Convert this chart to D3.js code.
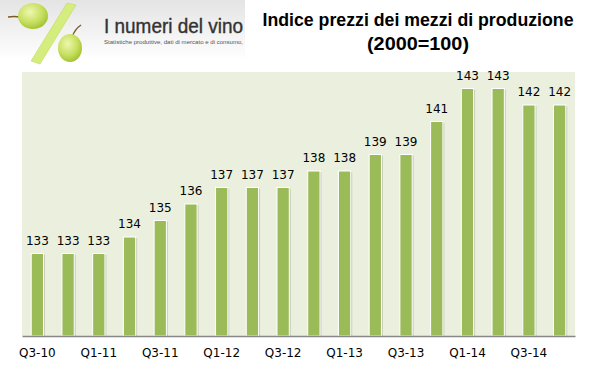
<!DOCTYPE html>
<html>
<head>
<meta charset="utf-8">
<script src="https://cdn.jsdelivr.net/npm/d3@7"></script>
<style>
  body { margin: 0; background: #fff; }
  svg { display: block; }
</style>
</head>
<body>
<svg id="chart" width="597" height="385"></svg>
<script>
// quarterly index, 2000 = 100
var quarters = ['Q3-10','Q4-10','Q1-11','Q2-11','Q3-11','Q4-11','Q1-12','Q2-12','Q3-12',
                'Q4-12','Q1-13','Q2-13','Q3-13','Q4-13','Q1-14','Q2-14','Q3-14','Q4-14'];
var values = [133,133,133,134,135,136,137,137,137,138,138,139,139,141,143,143,142,142];
var tickLabels = ['Q3-10','Q1-11','Q3-11','Q1-12','Q3-12','Q1-13','Q3-13','Q1-14','Q3-14'];
var titleLines = ['Indice prezzi dei mezzi di produzione', '(2000=100)'];

var svg = d3.select('#chart');
var margin = {left: 22, right: 22, top: 72, bottom: 49};
var W = 597, H = 385;

var defs = svg.append('defs');
var bg = defs.append('linearGradient').attr('id', 'banner').attr('x1', 0).attr('y1', 0).attr('x2', 0).attr('y2', 1);
bg.append('stop').attr('offset', 0).attr('stop-color', '#e4e4e4');
bg.append('stop').attr('offset', 1).attr('stop-color', '#fff');
var gr = defs.append('radialGradient').attr('id', 'grape').attr('cx', 0.4).attr('cy', 0.35).attr('r', 0.7);
gr.append('stop').attr('offset', 0).attr('stop-color', '#eef7b0');
gr.append('stop').attr('offset', 0.6).attr('stop-color', '#c6df5e');
gr.append('stop').attr('offset', 1).attr('stop-color', '#9fbf2e');

// logo banner
var logo = svg.append('g');
logo.append('rect').attr('x', 0).attr('y', 0).attr('width', 245).attr('height', 60).attr('fill', 'url(#banner)');
logo.append('path').attr('d', 'M67,3 L76,5 L40,64 L31,61 Z').attr('fill', '#d5ec7e').attr('stroke', '#c0dc5a').attr('stroke-width', 0.6);
logo.append('path').attr('d', 'M20,17 Q14,16 8,17').attr('stroke', '#7a5a2a').attr('stroke-width', 1.4).attr('fill', 'none');
logo.append('ellipse').attr('cx', 33).attr('cy', 16).attr('rx', 15).attr('ry', 13).attr('fill', 'url(#grape)');
logo.append('path').attr('d', 'M72,37 Q75,29 81,25').attr('stroke', '#7a5a2a').attr('stroke-width', 1.4).attr('fill', 'none');
logo.append('ellipse').attr('cx', 70).attr('cy', 48).attr('rx', 12).attr('ry', 14).attr('fill', 'url(#grape)');
logo.append('text').attr('x', 104).attr('y', 33).attr('font-family', 'Liberation Sans, Arial, sans-serif')
  .attr('font-size', 21).attr('fill', '#333').attr('stroke', '#333').attr('stroke-width', 0.4)
  .attr('textLength', 139).attr('lengthAdjust', 'spacingAndGlyphs').text('I numeri del vino');
logo.append('text').attr('x', 104).attr('y', 44).attr('font-family', 'Liberation Sans, Arial, sans-serif')
  .attr('font-size', 6).attr('fill', '#555')
  .attr('textLength', 139).attr('lengthAdjust', 'spacingAndGlyphs')
  .text('Statistiche produttive, dati di mercato e di consumo,');

// title
svg.selectAll('text.title').data(titleLines).enter().append('text')
  .attr('class', 'title').attr('x', 418).attr('y', function(d, i) { return 26 + i * 24; })
  .attr('text-anchor', 'middle').attr('font-family', 'Liberation Sans, Arial, sans-serif')
  .attr('font-weight', 'bold').attr('font-size', 17.5).attr('fill', '#000')
  .attr('textLength', function(d, i) { return i === 0 ? 311 : 102; })
  .attr('lengthAdjust', 'spacingAndGlyphs')
  .text(function(d) { return d; });

var x = d3.scaleBand().domain(quarters).range([margin.left, W - margin.right]).paddingInner(0.6).paddingOuter(0.3);
var y = d3.scaleLinear().domain([128, 144]).range([H - margin.bottom, margin.top]);

svg.append('rect').attr('x', margin.left).attr('y', margin.top)
  .attr('width', W - margin.left - margin.right).attr('height', H - margin.bottom - margin.top)
  .attr('fill', '#ebf0de');

var bars = svg.append('g').selectAll('g').data(values).enter().append('g');
// shadow
bars.append('rect').attr('x', function(d, i) { return x(quarters[i]) + 1.5; })
  .attr('y', function(d) { return y(d) + 1; })
  .attr('width', x.bandwidth()).attr('height', function(d) { return y(128) - y(d) - 1; })
  .attr('fill', '#c9cdbd');
bars.append('rect').attr('x', function(d, i) { return x(quarters[i]); })
  .attr('y', function(d) { return y(d); })
  .attr('width', x.bandwidth()).attr('height', function(d) { return y(128) - y(d); })
  .attr('fill', '#9bbb59').attr('stroke', '#fff').attr('stroke-width', 1);
bars.append('text').attr('x', function(d, i) { return x(quarters[i]) + x.bandwidth() / 2; })
  .attr('y', function(d) { return y(d) - 9; }).attr('text-anchor', 'middle')
  .attr('font-family', 'DejaVu Sans, Verdana, sans-serif').attr('font-size', 12).attr('fill', '#000')
  .text(function(d) { return d; });

var axis = d3.axisBottom(x).tickValues(tickLabels).tickSize(0).tickPadding(12);
var ax = svg.append('g').attr('transform', 'translate(0,' + (H - margin.bottom) + ')').call(axis);
ax.select('.domain').attr('stroke', '#888').attr('stroke-width', 1.5);
ax.selectAll('text').attr('font-family', 'DejaVu Sans, Verdana, sans-serif').attr('font-size', 12).attr('fill', '#000');
</script>
</body>
</html>
